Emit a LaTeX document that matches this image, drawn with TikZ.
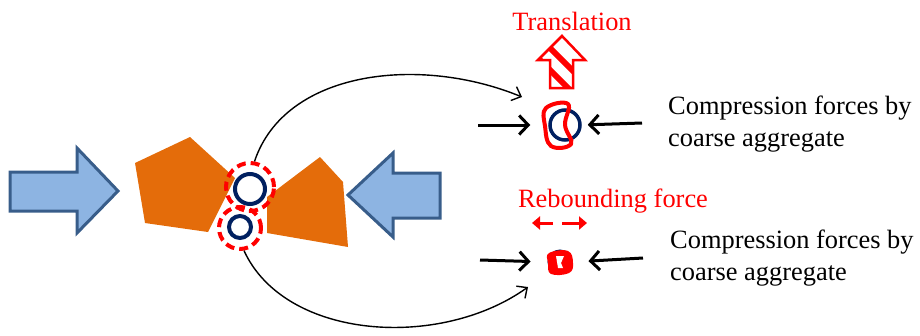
\documentclass[tikz,border=0pt]{standalone}
\usepackage{fontspec}
\setmainfont{Liberation Serif}
\newfontfamily\notefont{Liberation Serif}
\usepackage{xcolor}
\usetikzlibrary{arrows.meta}

\definecolor{aggorange}{RGB}{228,108,10}
\definecolor{pushblue}{RGB}{141,180,226}
\definecolor{pushedge}{RGB}{56,93,138}
\definecolor{poreblue}{RGB}{0,32,96}

\tikzset{
  aggregate/.style={fill=aggorange},
  push/.style={fill=pushblue, draw=pushedge, line width=3pt, line join=miter},
  ring/.style={circle, draw=poreblue, line width=4pt, inner sep=0pt, minimum size=#1},
  zone/.style={circle, draw=red, line width=4pt, dash pattern=on 9pt off 5pt, inner sep=0pt, minimum size=#1},
  route/.style={line width=1.4pt, -{Straight Barb[length=8pt,width=15pt]}},
  force/.style={line width=3pt, -{Straight Barb[length=9pt,width=19pt]}},
  note/.style={font=\notefont\fontsize{26.4}{31.5}\selectfont, inner sep=0pt},
}

\begin{document}
\begin{tikzpicture}[x=1pt,y=-1pt]
\useasboundingbox (0,0) rectangle (920,335);

% loading arrows
\draw [push] (10,172) -- (77,172) -- (77,148) -- (118,191) -- (77,233) -- (77,211) -- (10,211) -- cycle;
\draw [push] (440,173) -- (393,173) -- (393,153) -- (348,195) -- (393,237) -- (393,218) -- (440,218) -- cycle;

% coarse aggregate
\fill [aggregate] (135,163) -- (190,137) -- (235,178) -- (208,232) -- (145,223) -- cycle;
\fill [aggregate] (267,197) -- (320,157) -- (343,182) -- (348,247) -- (267,233) -- cycle;

% pores between the aggregates
\node [ring=30pt] (bigpore) at (250,189) {};
\node [zone=48pt] (bigzone) at (250,187) {};
\node [ring=22pt] (smallpore) at (240,227) {};
\node [zone=42pt] (smallzone) at (240,228) {};

\coordinate (transend) at (522,97);
\coordinate (rebend) at (528,287);
\draw [route] (bigzone.80) .. controls (285,70) and (420,55) .. (transend);
\draw [route] (smallzone.280) .. controls (285,340) and (440,350) .. (rebend);

% translated grain
\node [ring=30pt, line width=3.5pt] (transgrain) at (565,125) {};
\draw [red, line width=4pt] plot [smooth cycle, tension=0.7] coordinates {(546,108) (568,104) (565,125) (571,144) (551,146) (545,126)};
\begin{scope}
\clip (550,88) -- (573,88) -- (573,60) -- (585,60) -- (562,36) -- (538,60) -- (550,60) -- cycle;
\foreach \c in {60,82}
  \draw [red, line width=6pt] (522,\c-40) -- (602,\c+40);
\end{scope}
\draw [red, line width=2.5pt, line join=miter] (550,88) -- (573,88) -- (573,60) -- (585,60) -- (562,36) -- (538,60) -- (550,60) -- cycle;
\node [note, red] (trans) at (572,21) {Translation};

\coordinate (tl) at (478,125);
\coordinate (tr) at (642,123);
\draw [force, shorten >=18pt] (tl) -- (transgrain.west);
\draw [force, shorten >=6pt] (tr) -- (transgrain.east);
\node [note, anchor=west, align=left] (topforce) at (668,124) {Compression forces by\\coarse aggregate};

% rebounding grain
\node [ring=22pt, line width=3pt] (rebgrain) at (560,262) {};
\fill [red] plot [smooth cycle, tension=0.7] coordinates {(549,253) (568,251) (573,263) (569,273) (551,274) (548,263)};
\fill [white] (556,256) -- (564,256) -- (561,263) -- (563,268) -- (558,268) -- (557,262) -- cycle;
\draw [red, line width=3pt, -{Triangle[length=8pt,width=13pt]}] (553,223) -- (532,223);
\draw [red, line width=3pt, -{Triangle[length=8pt,width=13pt]}] (562,223) -- (587,223);
\node [note, red] (reb) at (613,201) {Rebounding force};

\coordinate (bl) at (480,260);
\coordinate (br) at (643,258);
\draw [force, shorten >=17pt] (bl) -- (rebgrain.west);
\draw [force, shorten >=16pt] (br) -- (rebgrain.east);
\node [note, anchor=west, align=left] (botforce) at (670,258) {Compression forces by\\coarse aggregate};
\end{tikzpicture}
\end{document}
